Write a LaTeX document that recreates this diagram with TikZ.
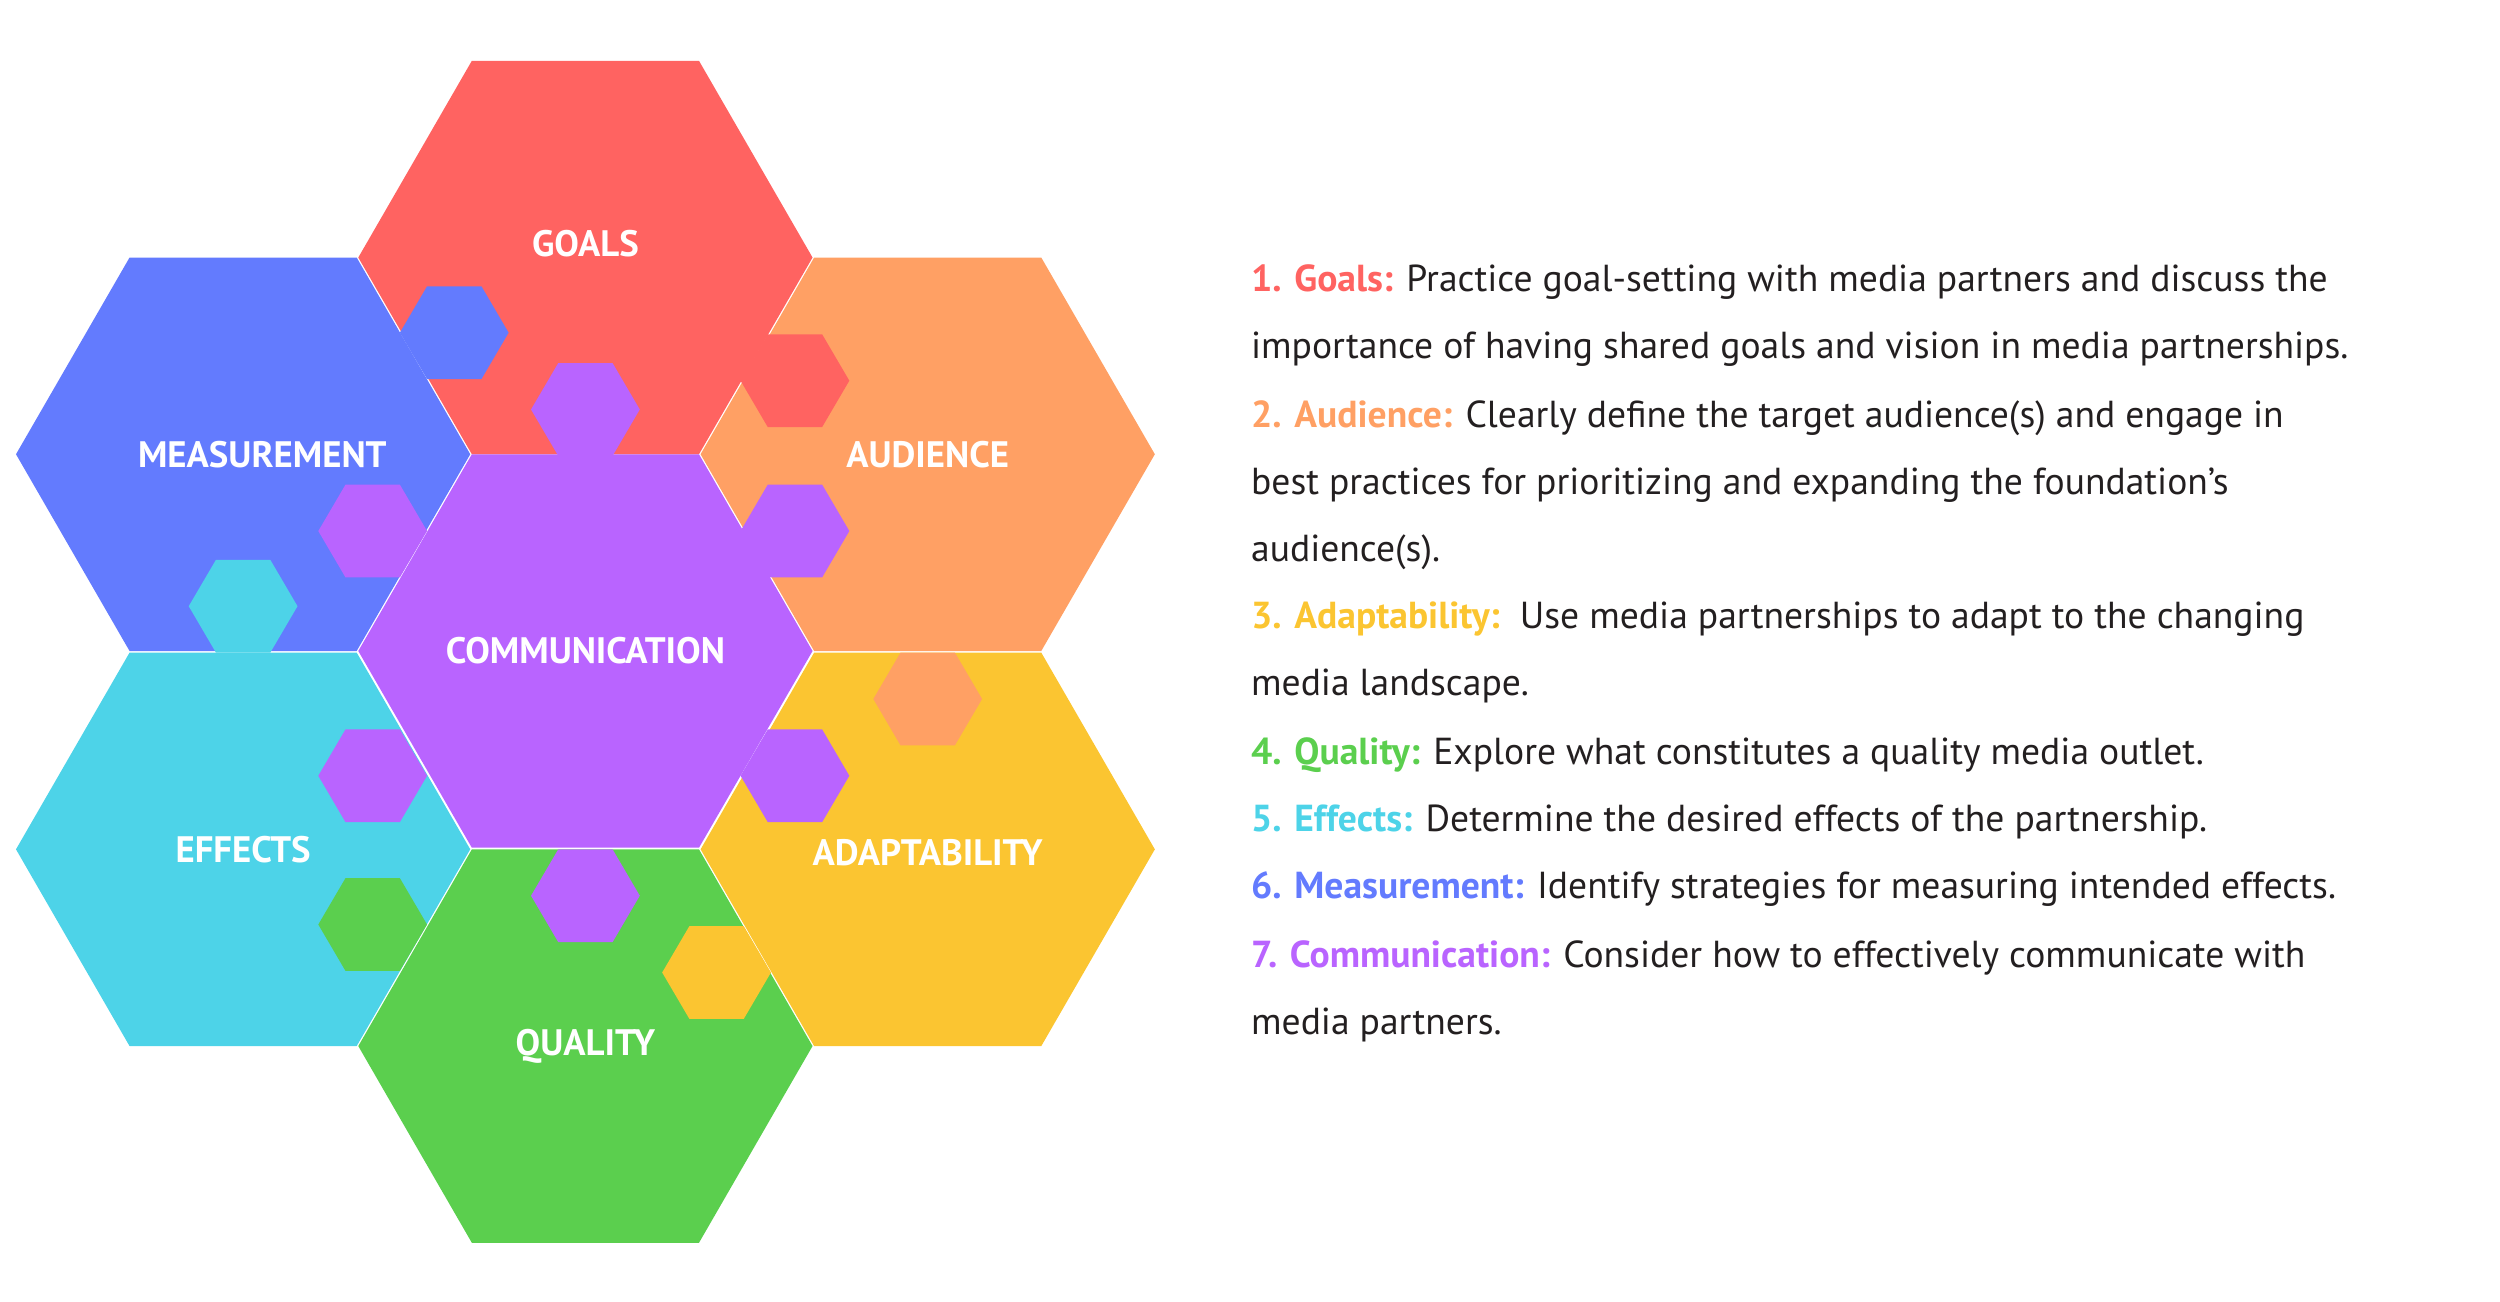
\documentclass[tikz,border=0pt]{standalone}
\usepackage{fontspec}
\setmainfont{PT Sans}
\definecolor{cGoal}{HTML}{FF6361}
\definecolor{cMeas}{HTML}{637BFE}
\definecolor{cAud}{HTML}{FFA064}
\definecolor{cComm}{HTML}{B964FF}
\definecolor{cEff}{HTML}{4DD3E8}
\definecolor{cAdap}{HTML}{FBC531}
\definecolor{cQual}{HTML}{5BCF4E}
\definecolor{txt}{HTML}{231F20}
\begin{document}
\begin{tikzpicture}[x=1pt,y=-1pt,
  lab/.style={text=white,font=\fontsize{23}{26}\selectfont\bfseries},
  line/.style={anchor=base west,inner sep=0pt,text=txt,font=\fontsize{23.5}{28}\selectfont}]
\useasboundingbox (0,0) rectangle (1563,814);
\newcommand{\bighex}[3]{\fill[#3] (#1-142,#2) -- (#1-71,#2-123) -- (#1+71,#2-123) -- (#1+142,#2) -- (#1+71,#2+123) -- (#1-71,#2+123) -- cycle;}
\newcommand{\tabhex}[3]{\fill[#3] (#1-34,#2) -- (#1-17,#2-29) -- (#1+17,#2-29) -- (#1+34,#2) -- (#1+17,#2+29) -- (#1-17,#2+29) -- cycle;}
\bighex{366}{161}{cGoal}
\bighex{152}{284}{cMeas}
\bighex{580}{284}{cAud}
\bighex{152}{531}{cEff}
\bighex{580}{531}{cAdap}
\bighex{366}{654}{cQual}
\bighex{366}{407}{cComm}
\tabhex{284}{208}{cMeas}
\tabhex{497}{238}{cGoal}
\tabhex{366}{256}{cComm}
\tabhex{233}{332}{cComm}
\tabhex{497}{332}{cComm}
\tabhex{233}{485}{cComm}
\tabhex{497}{485}{cComm}
\tabhex{366}{560}{cComm}
\tabhex{152}{379}{cEff}
\tabhex{580}{437}{cAud}
\tabhex{233}{578}{cQual}
\tabhex{448}{608}{cAdap}
\node[lab] (lg) at (366,152) {GOALS};
\node[lab] (lm) at (164,284) {MEASUREMENT};
\node[lab] (la) at (580,284) {AUDIENCE};
\node[lab] (lc) at (366,407) {COMMUNICATION};
\node[lab] (le) at (152,531) {EFFECTS};
\node[lab] (ld) at (580,533) {ADAPTABILITY};
\node[lab] (lq) at (366,654) {QUALITY};
\node[line] (t1) at (782,182) {\textcolor{cGoal}{\bfseries 1. Goals:} Practice goal-setting with media partners and discuss the};
\node[line] (t2) at (782,224) {importance of having shared goals and vision in media partnerships.};
\node[line] (t3) at (782,267) {\textcolor{cAud}{\bfseries 2. Audience:} Clearly define the target audience(s) and engage in};
\node[line] (t4) at (782,309) {best practices for prioritizing and expanding the foundation’s};
\node[line] (t5) at (782,351) {audience(s).};
\node[line] (t6) at (782,393) {\textcolor{cAdap}{\bfseries 3. Adaptability:}\ \ Use media partnerships to adapt to the changing};
\node[line] (t7) at (782,435) {media landscape.};
\node[line] (t8) at (782,478) {\textcolor{cQual}{\bfseries 4. Quality:} Explore what constitutes a quality media outlet.};
\node[line] (t9) at (782,520) {\textcolor{cEff}{\bfseries 5. Effects:} Determine the desired effects of the partnership.};
\node[line] (t10) at (782,562) {\textcolor{cMeas}{\bfseries 6. Measurement:} Identify strategies for measuring intended effects.};
\node[line] (t11) at (782,605) {\textcolor{cComm}{\bfseries 7. Communication:} Consider how to effectively communicate with};
\node[line] (t12) at (782,647) {media partners.};
\end{tikzpicture}
\end{document}
